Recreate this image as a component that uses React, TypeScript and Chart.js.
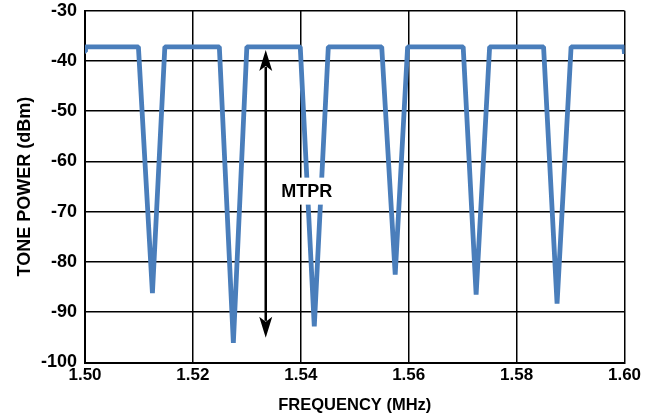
import React, { useEffect, useRef } from "react";
import { Chart, registerables } from "chart.js";

Chart.register(...registerables);

const freqMHz = [
  1.5, 1.5001, 1.5099, 1.5125, 1.5148, 1.5249, 1.5275, 1.53, 1.5399, 1.5425, 1.5451,
  1.555, 1.5575, 1.5598, 1.5701, 1.5725, 1.575, 1.585, 1.5875, 1.5901, 1.5999, 1.6,
];
const tonePowerDbm = [
  -38.1, -37.2, -37.2, -86.2, -37.2, -37.2, -96.1, -37.2, -37.2, -92.8, -37.2,
  -37.2, -82.5, -37.2, -37.2, -86.5, -37.2, -37.2, -88.3, -37.2, -37.2, -38.6,
];

const xTickMin = 1.5;
const xTickMax = 1.6;
const xTickStep = 0.02;
const yTickMin = -100;
const yTickMax = -30;
const yTickStep = 10;

const xTitle = "FREQUENCY (MHz)";
const yTitle = "TONE POWER (dBm)";

const mtprLabel = "MTPR";
const mtprArrowX = 1.5335;
const mtprArrowTop = -37.8;
const mtprArrowBottom = -95.1;
const mtprLabelX = 1.5411;
const mtprLabelY = -65.9;

const FONT = "'Liberation Sans', Arial, Helvetica, sans-serif";

const mtprPlugin = {
  id: "mtpr",
  afterDatasetsDraw(chart: any) {
    const { ctx, scales } = chart;
    const x = scales.x.getPixelForValue(mtprArrowX);
    const yTop = scales.y.getPixelForValue(mtprArrowTop);
    const yBot = scales.y.getPixelForValue(mtprArrowBottom);
    const headLen = 21;
    const headHalf = 6.5;
    ctx.save();
    ctx.strokeStyle = "#000";
    ctx.fillStyle = "#000";
    ctx.lineWidth = 2.5;
    ctx.beginPath();
    ctx.moveTo(x, yTop + headLen - 4);
    ctx.lineTo(x, yBot - headLen + 4);
    ctx.stroke();
    ctx.beginPath();
    ctx.moveTo(x, yTop);
    ctx.lineTo(x + headHalf, yTop + headLen);
    ctx.lineTo(x, yTop + headLen - 5);
    ctx.lineTo(x - headHalf, yTop + headLen);
    ctx.closePath();
    ctx.fill();
    ctx.beginPath();
    ctx.moveTo(x, yBot);
    ctx.lineTo(x + headHalf, yBot - headLen);
    ctx.lineTo(x, yBot - headLen + 5);
    ctx.lineTo(x - headHalf, yBot - headLen);
    ctx.closePath();
    ctx.fill();

    const lx = scales.x.getPixelForValue(mtprLabelX);
    const ly = scales.y.getPixelForValue(mtprLabelY);
    ctx.font = `bold 18px ${FONT}`;
    const w = ctx.measureText(mtprLabel).width;
    ctx.fillStyle = "#fff";
    ctx.fillRect(lx - w / 2 - 6, ly - 13.5, w + 12, 27);
    ctx.fillStyle = "#000";
    ctx.textAlign = "center";
    ctx.textBaseline = "middle";
    ctx.fillText(mtprLabel, lx, ly + 1);
    ctx.restore();
  },
};

export default function App() {
  const ref = useRef<HTMLCanvasElement | null>(null);
  useEffect(() => {
    if (!ref.current) return;
    const data = freqMHz.map((f, i) => ({ x: f, y: tonePowerDbm[i] }));
    const chart = new Chart(ref.current, {
      type: "line",
      data: {
        datasets: [
          {
            data,
            borderColor: "#4A7EBB",
            borderWidth: 4.8,
            pointRadius: 0,
            tension: 0,
            borderJoinStyle: "bevel",
            borderCapStyle: "butt",
          },
        ],
      },
      options: {
        responsive: false,
        animation: false,
        layout: { padding: { left: 0, right: 27.5, top: 10.7, bottom: 0 } },
        plugins: { legend: { display: false }, tooltip: { enabled: false } },
        scales: {
          x: {
            type: "linear",
            min: xTickMin,
            max: xTickMax,
            ticks: {
              stepSize: xTickStep,
              color: "#000",
              font: { family: FONT, size: 17, weight: "bold" },
              padding: 3,
              maxRotation: 0,
              callback: (v: any) => Number(v).toFixed(2),
            },
            grid: { color: "#000", lineWidth: 1.5, drawTicks: false },
            border: { color: "#000", width: 2 },
            title: {
              display: true,
              text: xTitle,
              color: "#000",
              font: { family: FONT, size: 16.5, weight: "bold" },
              padding: { top: 0, bottom: 1 },
            },
            afterFit: (s: any) => {
              s.height = 416 - 362.5;
              s.paddingLeft = 0;
              s.paddingRight = 0;
            },
          },
          y: {
            type: "linear",
            min: yTickMin,
            max: yTickMax,
            ticks: {
              stepSize: yTickStep,
              color: "#000",
              font: { family: FONT, size: 18, weight: "bold" },
              padding: 8,
            },
            grid: { color: "#000", lineWidth: 1.5, drawTicks: false },
            border: { color: "#000", width: 2 },
            title: {
              display: true,
              text: yTitle,
              color: "#000",
              font: { family: FONT, size: 18, weight: "bold" },
              padding: { top: 14, bottom: 0 },
            },
            afterFit: (s: any) => {
              s.width = 85;
              s.paddingTop = 0;
              s.paddingBottom = 0;
            },
          },
        },
      },
      plugins: [mtprPlugin],
    });
    return () => chart.destroy();
  }, []);
  return (
    <div style={{ position: "absolute", left: 0, top: 0, width: 652, height: 416, background: "#fff" }}>
      <canvas ref={ref} width={652} height={416} />
    </div>
  );
}
